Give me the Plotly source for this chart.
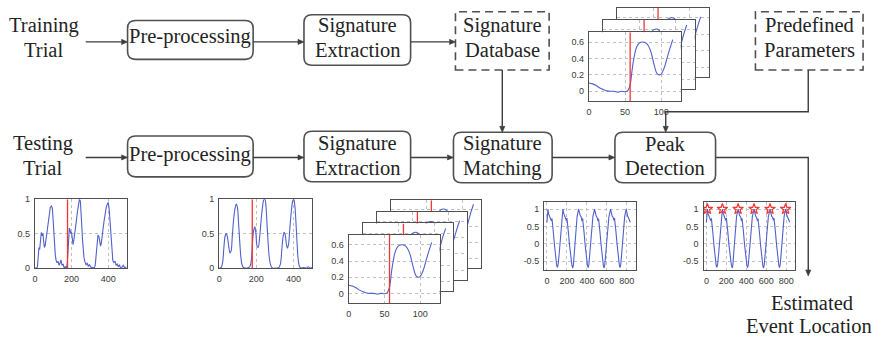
import plotly.graph_objects as go

# ---------------------------------------------------------------- data
# raw trial (top-left small plot) and its pre-processed version
raw_x = [0, 8, 14, 18, 22, 26, 30, 35, 40, 44, 48, 52, 56, 60, 66, 72, 78, 84, 90, 95,
         99, 103, 107, 111, 115, 120, 126, 132, 137, 142, 148, 154, 160, 166, 172, 176, 180, 184, 188, 192,
         196, 200, 204, 208, 213, 219, 225, 231, 237, 243, 248, 252, 256, 260, 264, 268, 273, 279, 285, 291,
         297, 303, 309, 316, 323, 329, 334, 339, 344, 349, 354, 358, 362, 366, 371, 377, 383, 389, 395, 400,
         405, 409, 413, 417, 421, 425, 431, 437, 443, 449, 455, 461, 467, 474, 482, 490, 500]
raw_y = [0.0, 0.0, 0.02, 0.14, 0.3, 0.27, 0.44, 0.52, 0.47, 0.5, 0.38, 0.3, 0.33, 0.45, 0.52, 0.64, 0.8, 0.88, 0.9, 0.87,
         0.72, 0.5, 0.33, 0.2, 0.12, 0.08, 0.1, 0.04, 0.07, 0.12, 0.04, 0.06, 0.0, 0.02, 0.0, 0.05, 0.22, 0.44, 0.58, 0.55,
         0.5, 0.52, 0.4, 0.34, 0.42, 0.52, 0.66, 0.8, 0.92, 1.0, 0.97, 0.84, 0.6, 0.4, 0.24, 0.15, 0.09, 0.05, 0.07, 0.03,
         0.05, 0.02, 0.0, 0.01, 0.0, 0.04, 0.18, 0.36, 0.48, 0.46, 0.38, 0.32, 0.36, 0.42, 0.55, 0.68, 0.8, 0.88, 0.93, 0.95,
         0.86, 0.7, 0.5, 0.33, 0.2, 0.11, 0.08, 0.1, 0.04, 0.06, 0.02, 0.05, 0.0, 0.01, 0.04, 0.0, 0.02]

smooth_x = [0, 10, 18, 25, 32, 38, 44, 52, 58, 64, 70, 78, 86, 92, 98, 104, 110, 116, 122, 130,
            140, 150, 160, 168, 174, 180, 186, 192, 198, 204, 210, 218, 226, 234, 240, 246, 252, 258, 264, 270,
            278, 288, 300, 312, 322, 330, 337, 344, 350, 356, 362, 368, 374, 380, 388, 396, 402, 408, 414, 420,
            426, 432, 440, 455, 470, 480, 490, 500]
smooth_y = [0.0, 0.01, 0.08, 0.3, 0.47, 0.5, 0.45, 0.3, 0.22, 0.25, 0.45, 0.72, 0.88, 0.93, 0.88, 0.66, 0.4, 0.18, 0.06, 0.01,
            0.0, 0.0, 0.01, 0.04, 0.15, 0.4, 0.55, 0.6, 0.5, 0.32, 0.3, 0.45, 0.7, 0.9, 0.99, 1.0, 0.9, 0.62, 0.35, 0.15,
            0.04, 0.0, 0.0, 0.0, 0.01, 0.06, 0.25, 0.45, 0.52, 0.48, 0.35, 0.29, 0.35, 0.55, 0.8, 0.97, 1.0, 0.9, 0.65, 0.35,
            0.12, 0.03, 0.0, 0.01, 0.0, 0.02, 0.0, 0.01]
trial_event = 178

# signatures (front panel first, then the ones stacked behind it)
sig_x = [0, 5, 10, 15, 20, 25, 30, 35, 40, 45, 50, 54, 57, 60, 63, 66, 70, 75, 80, 85, 90, 94, 97, 100, 104, 108, 112, 116]
sig_a = [0.10, 0.09, 0.07, 0.04, 0.02, 0.005, 0.0, 0.0, -0.01, 0.0, -0.005, 0.01, 0.08, 0.28, 0.44, 0.54, 0.59, 0.6,
         0.58, 0.5, 0.33, 0.22, 0.2, 0.21, 0.28, 0.4, 0.52, 0.63]
sig_b = [0.09, 0.08, 0.06, 0.03, 0.01, 0.0, 0.0, 0.01, 0.0, 0.0, 0.0, 0.02, 0.1, 0.3, 0.46, 0.56, 0.6, 0.61,
         0.57, 0.47, 0.3, 0.2, 0.18, 0.2, 0.29, 0.42, 0.55, 0.66]
sig_c = [0.11, 0.1, 0.07, 0.05, 0.02, 0.01, 0.0, -0.01, 0.0, 0.01, 0.0, 0.01, 0.07, 0.26, 0.42, 0.53, 0.58, 0.6,
         0.59, 0.52, 0.36, 0.25, 0.22, 0.22, 0.27, 0.38, 0.5, 0.61]
sig_d = [0.1, 0.09, 0.06, 0.04, 0.02, 0.0, 0.01, 0.0, 0.0, -0.01, 0.0, 0.02, 0.09, 0.29, 0.45, 0.55, 0.6, 0.61,
         0.58, 0.49, 0.32, 0.21, 0.19, 0.21, 0.3, 0.43, 0.56, 0.67]
sig_event = 57

# signature matching output
match_x = [0, 4, 10, 17, 26, 36, 44, 50, 56, 64, 76, 88, 98, 105, 112, 122, 136, 150,
           160, 167, 176, 186, 194, 200, 206, 214, 226, 238, 250, 259, 265, 273, 286, 302,
           317, 324, 333, 343, 351, 357, 363, 371, 383, 395, 406, 413, 420, 428, 442, 460,
           477, 484, 493, 503, 511, 517, 523, 531, 543, 555, 565, 572, 579, 588, 603, 620,
           637, 644, 653, 663, 671, 677, 683, 691, 703, 715, 725, 732, 739, 748, 762, 778,
           793, 800, 808, 817, 826, 834]
match_y = [0.62, 0.83, 1.0, 0.86, 0.79, 0.75, 0.66, 0.73, 0.6, 0.33, -0.06, -0.43, -0.63, -0.68, -0.6, -0.31, 0.24, 0.77,
           1.0, 0.88, 0.8, 0.76, 0.67, 0.74, 0.61, 0.35, -0.04, -0.4, -0.62, -0.7, -0.61, -0.3, 0.26, 0.79,
           1.0, 0.87, 0.81, 0.77, 0.65, 0.73, 0.62, 0.34, -0.05, -0.42, -0.64, -0.69, -0.6, -0.32, 0.24, 0.78,
           1.0, 0.86, 0.8, 0.75, 0.66, 0.72, 0.6, 0.33, -0.06, -0.43, -0.63, -0.7, -0.61, -0.31, 0.25, 0.77,
           1.0, 0.87, 0.79, 0.76, 0.67, 0.74, 0.61, 0.34, -0.04, -0.41, -0.62, -0.69, -0.6, -0.3, 0.26, 0.78,
           1.0, 0.88, 0.8, 0.74, 0.68, 0.62]
peak_x = [10, 160, 317, 477, 637, 793]
peak_y = [match_y[match_x.index(p)] for p in peak_x]

# tick labels
trial_xticks = [0, 200, 400]
trial_yticks = [0, 0.5, 1]
trial_ytext = ["0", "0.5", "1"]
sig_xticks = [0, 50, 100]
sig_yticks = [0, 0.2, 0.4, 0.6]
sig_ytext = ["0", "0.2", "0.4", "0.6"]
match_xticks = [0, 200, 400, 600, 800]
match_yticks = [-0.5, 0, 0.5, 1]
match_ytext = ["-0.5", "0", "0.5", "1"]

# ---------------------------------------------------------------- helpers
W, H = 881, 344
BLUE = "#5060cc"
RED = "#f03535"
FRAME = "#505050"
INK = "#3c3c3c"
SERIF = "Liberation Serif"


def fx(x):
    return x / W


def fy(y):
    return 1 - y / H


fig = go.Figure()


def inset(k, box, xr, yr, xt, yt, ytext, labels):
    l, t, r, b = box
    sfx = "" if k == 1 else str(k)
    common = dict(showline=True, mirror=True, linecolor=FRAME, linewidth=1.4,
                  showgrid=True, gridcolor="#c0c0c0", griddash="dot", gridwidth=1,
                  zeroline=False, ticks="", fixedrange=True, showticklabels=labels,
                  ticklabelstandoff=2,
                  tickfont=dict(family="Liberation Sans", size=9, color="#3a3a3a"))
    fig.layout["xaxis" + sfx] = dict(domain=[fx(l), fx(r)], range=xr, anchor="y" + sfx,
                                     tickvals=xt, ticktext=[str(v) for v in xt], **common)
    fig.layout["yaxis" + sfx] = dict(domain=[fy(b), fy(t)], range=yr, anchor="x" + sfx,
                                     tickvals=yt, ticktext=ytext, **common)
    return "x" + sfx, "y" + sfx


def curve(ax, x, y, shape="linear"):
    fig.add_trace(go.Scatter(x=x, y=y, mode="lines", xaxis=ax[0], yaxis=ax[1],
                             line=dict(color=BLUE, width=1.1, shape=shape),
                             hoverinfo="skip", showlegend=False))


def marker_line(ax, xv, yr):
    fig.add_trace(go.Scatter(x=[xv, xv], y=yr, mode="lines", xaxis=ax[0], yaxis=ax[1],
                             line=dict(color=RED, width=1.3),
                             hoverinfo="skip", showlegend=False))


SIG_XR = [0, 127]
SIG_YR = [-0.12, 0.72]
TRIAL_XR = [0, 500]
TRIAL_YR = [0, 1]
MATCH_XR = [-28, 890]
MATCH_YR = [-0.76, 1.2]

# stacked signatures under "Signature Extraction" (back to front)
mid_boxes = [(389, 201, 480, 271), (375, 213, 466, 283), (361, 225, 452, 295), (347, 237, 438, 307)]
mid_sigs = [sig_d, sig_c, sig_b, sig_a]
k = 1
for i, (bx, sy) in enumerate(zip(mid_boxes, mid_sigs)):
    ax = inset(k, bx, SIG_XR, SIG_YR, sig_xticks, sig_yticks, sig_ytext, i == len(mid_boxes) - 1)
    curve(ax, sig_x, sy, "spline")
    marker_line(ax, sig_event, SIG_YR)
    k += 1

# stacked signatures from the database (back to front)
top_boxes = [(616, 3, 708, 74), (602, 15.5, 694, 86.5), (588, 28, 680, 99)]
top_sigs = [sig_c, sig_b, sig_a]
for i, (bx, sy) in enumerate(zip(top_boxes, top_sigs)):
    ax = inset(k, bx, SIG_XR, SIG_YR, sig_xticks, sig_yticks, sig_ytext, i == len(top_boxes) - 1)
    curve(ax, sig_x, sy, "spline")
    marker_line(ax, sig_event, SIG_YR)
    k += 1

# raw and pre-processed trials
ax = inset(k, (32, 200, 124, 271), TRIAL_XR, TRIAL_YR, trial_xticks, trial_yticks, trial_ytext, True)
curve(ax, raw_x, raw_y)
marker_line(ax, trial_event, TRIAL_YR)
k += 1
ax = inset(k, (217, 200, 310, 271), TRIAL_XR, TRIAL_YR, trial_xticks, trial_yticks, trial_ytext, True)
curve(ax, smooth_x, smooth_y, "spline")
marker_line(ax, trial_event, TRIAL_YR)
k += 1

# matching output and detected peaks
ax = inset(k, (543, 203, 635, 273), MATCH_XR, MATCH_YR, match_xticks, match_yticks, match_ytext, True)
curve(ax, match_x, match_y)
k += 1
ax = inset(k, (703, 203, 795, 273), MATCH_XR, MATCH_YR, match_xticks, match_yticks, match_ytext, True)
curve(ax, match_x, match_y)
fig.add_trace(go.Scatter(x=peak_x, y=peak_y, mode="markers", xaxis=ax[0], yaxis=ax[1],
                         marker=dict(symbol="star-open", size=8, color=RED, line=dict(width=1.2, color=RED)),
                         hoverinfo="skip", showlegend=False))

# ---------------------------------------------------------------- flowchart
shapes = []


def P(x, y):
    return f"{fx(x):.5f},{fy(y):.5f}"


def rbox(x0, y0, x1, y1, r=8):
    path = (f"M{P(x0 + r, y0)} L{P(x1 - r, y0)} Q{P(x1, y0)} {P(x1, y0 + r)} "
            f"L{P(x1, y1 - r)} Q{P(x1, y1)} {P(x1 - r, y1)} "
            f"L{P(x0 + r, y1)} Q{P(x0, y1)} {P(x0, y1 - r)} "
            f"L{P(x0, y0 + r)} Q{P(x0, y0)} {P(x0 + r, y0)} Z")
    shapes.append(dict(type="path", xref="paper", yref="paper", path=path,
                       line=dict(color=FRAME, width=1.6), layer="above"))


def dbox(x0, y0, x1, y1):
    shapes.append(dict(type="rect", xref="paper", yref="paper",
                       x0=fx(x0), x1=fx(x1), y0=fy(y1), y1=fy(y0),
                       line=dict(color=FRAME, width=1.6, dash="8px,5px"), layer="above"))


def arrow(pts, head=6, half=2.6):
    (xa, ya), (xb, yb) = pts[-2], pts[-1]
    dx = (xb > xa) - (xb < xa)
    dy = (yb > ya) - (yb < ya)
    base = (xb - dx * head, yb - dy * head)
    line_pts = pts[:-1] + [base]
    path = "M" + " L".join(P(x, y) for x, y in line_pts)
    shapes.append(dict(type="path", xref="paper", yref="paper", path=path,
                       line=dict(color=INK, width=1.4), layer="above"))
    px, py = -dy * half, dx * half
    tri = f"M{P(xb, yb)} L{P(base[0] + px, base[1] + py)} L{P(base[0] - px, base[1] - py)} Z"
    shapes.append(dict(type="path", xref="paper", yref="paper", path=tri,
                       fillcolor=INK, line=dict(color=INK, width=0.6), layer="above"))


rbox(125, 16, 251, 56)
rbox(302, 10, 409, 62)
rbox(125, 135, 251, 177)
rbox(302, 130, 409, 182)
rbox(452, 131, 551, 183)
rbox(614, 131, 715, 183)
dbox(454, 7, 548, 67)
dbox(755, 7, 863, 67)

arrow([(83, 38), (125, 38)])
arrow([(251, 38), (302, 38)])
arrow([(409, 38), (454, 38)])
arrow([(83, 157), (125, 157)])
arrow([(251, 157), (302, 157)])
arrow([(409, 157), (452, 157)])
arrow([(551, 157), (614, 157)])
arrow([(501, 67), (501, 131)])
arrow([(808, 67), (808, 110), (665, 110), (665, 131)])
arrow([(715, 157), (808, 157), (808, 279)])

# one annotation per text line: (text, centre x, centre y)
text_lines = [
    ("Training", 41, 21), ("Trial", 41, 46),
    ("Pre-processing", 188, 32),
    ("Signature", 355.5, 21), ("Extraction", 355.5, 46),
    ("Signature", 501, 21), ("Database", 501, 46),
    ("Predefined", 809, 21), ("Parameters", 809, 46),
    ("Testing", 40, 143), ("Trial", 40, 168),
    ("Pre-processing", 188, 154),
    ("Signature", 355.5, 143), ("Extraction", 355.5, 168),
    ("Signature", 501.5, 143), ("Matching", 501.5, 168),
    ("Peak", 664.5, 143), ("Detection", 664.5, 168),
    ("Estimated", 812, 307), ("Event Location", 809, 331),
]
annotations = [dict(text=t, x=fx(x), y=fy(y), xref="paper", yref="paper", showarrow=False,
                    xanchor="center", yanchor="middle",
                    font=dict(family=SERIF, size=20.5, color="#232323"))
               for t, x, y in text_lines]

fig.update_layout(width=W, height=H, autosize=False,
                  margin=dict(l=0, r=0, t=0, b=0),
                  paper_bgcolor="white", plot_bgcolor="white",
                  shapes=shapes, annotations=annotations, showlegend=False)

fig.write_html("out.html", config={"displayModeBar": False})
